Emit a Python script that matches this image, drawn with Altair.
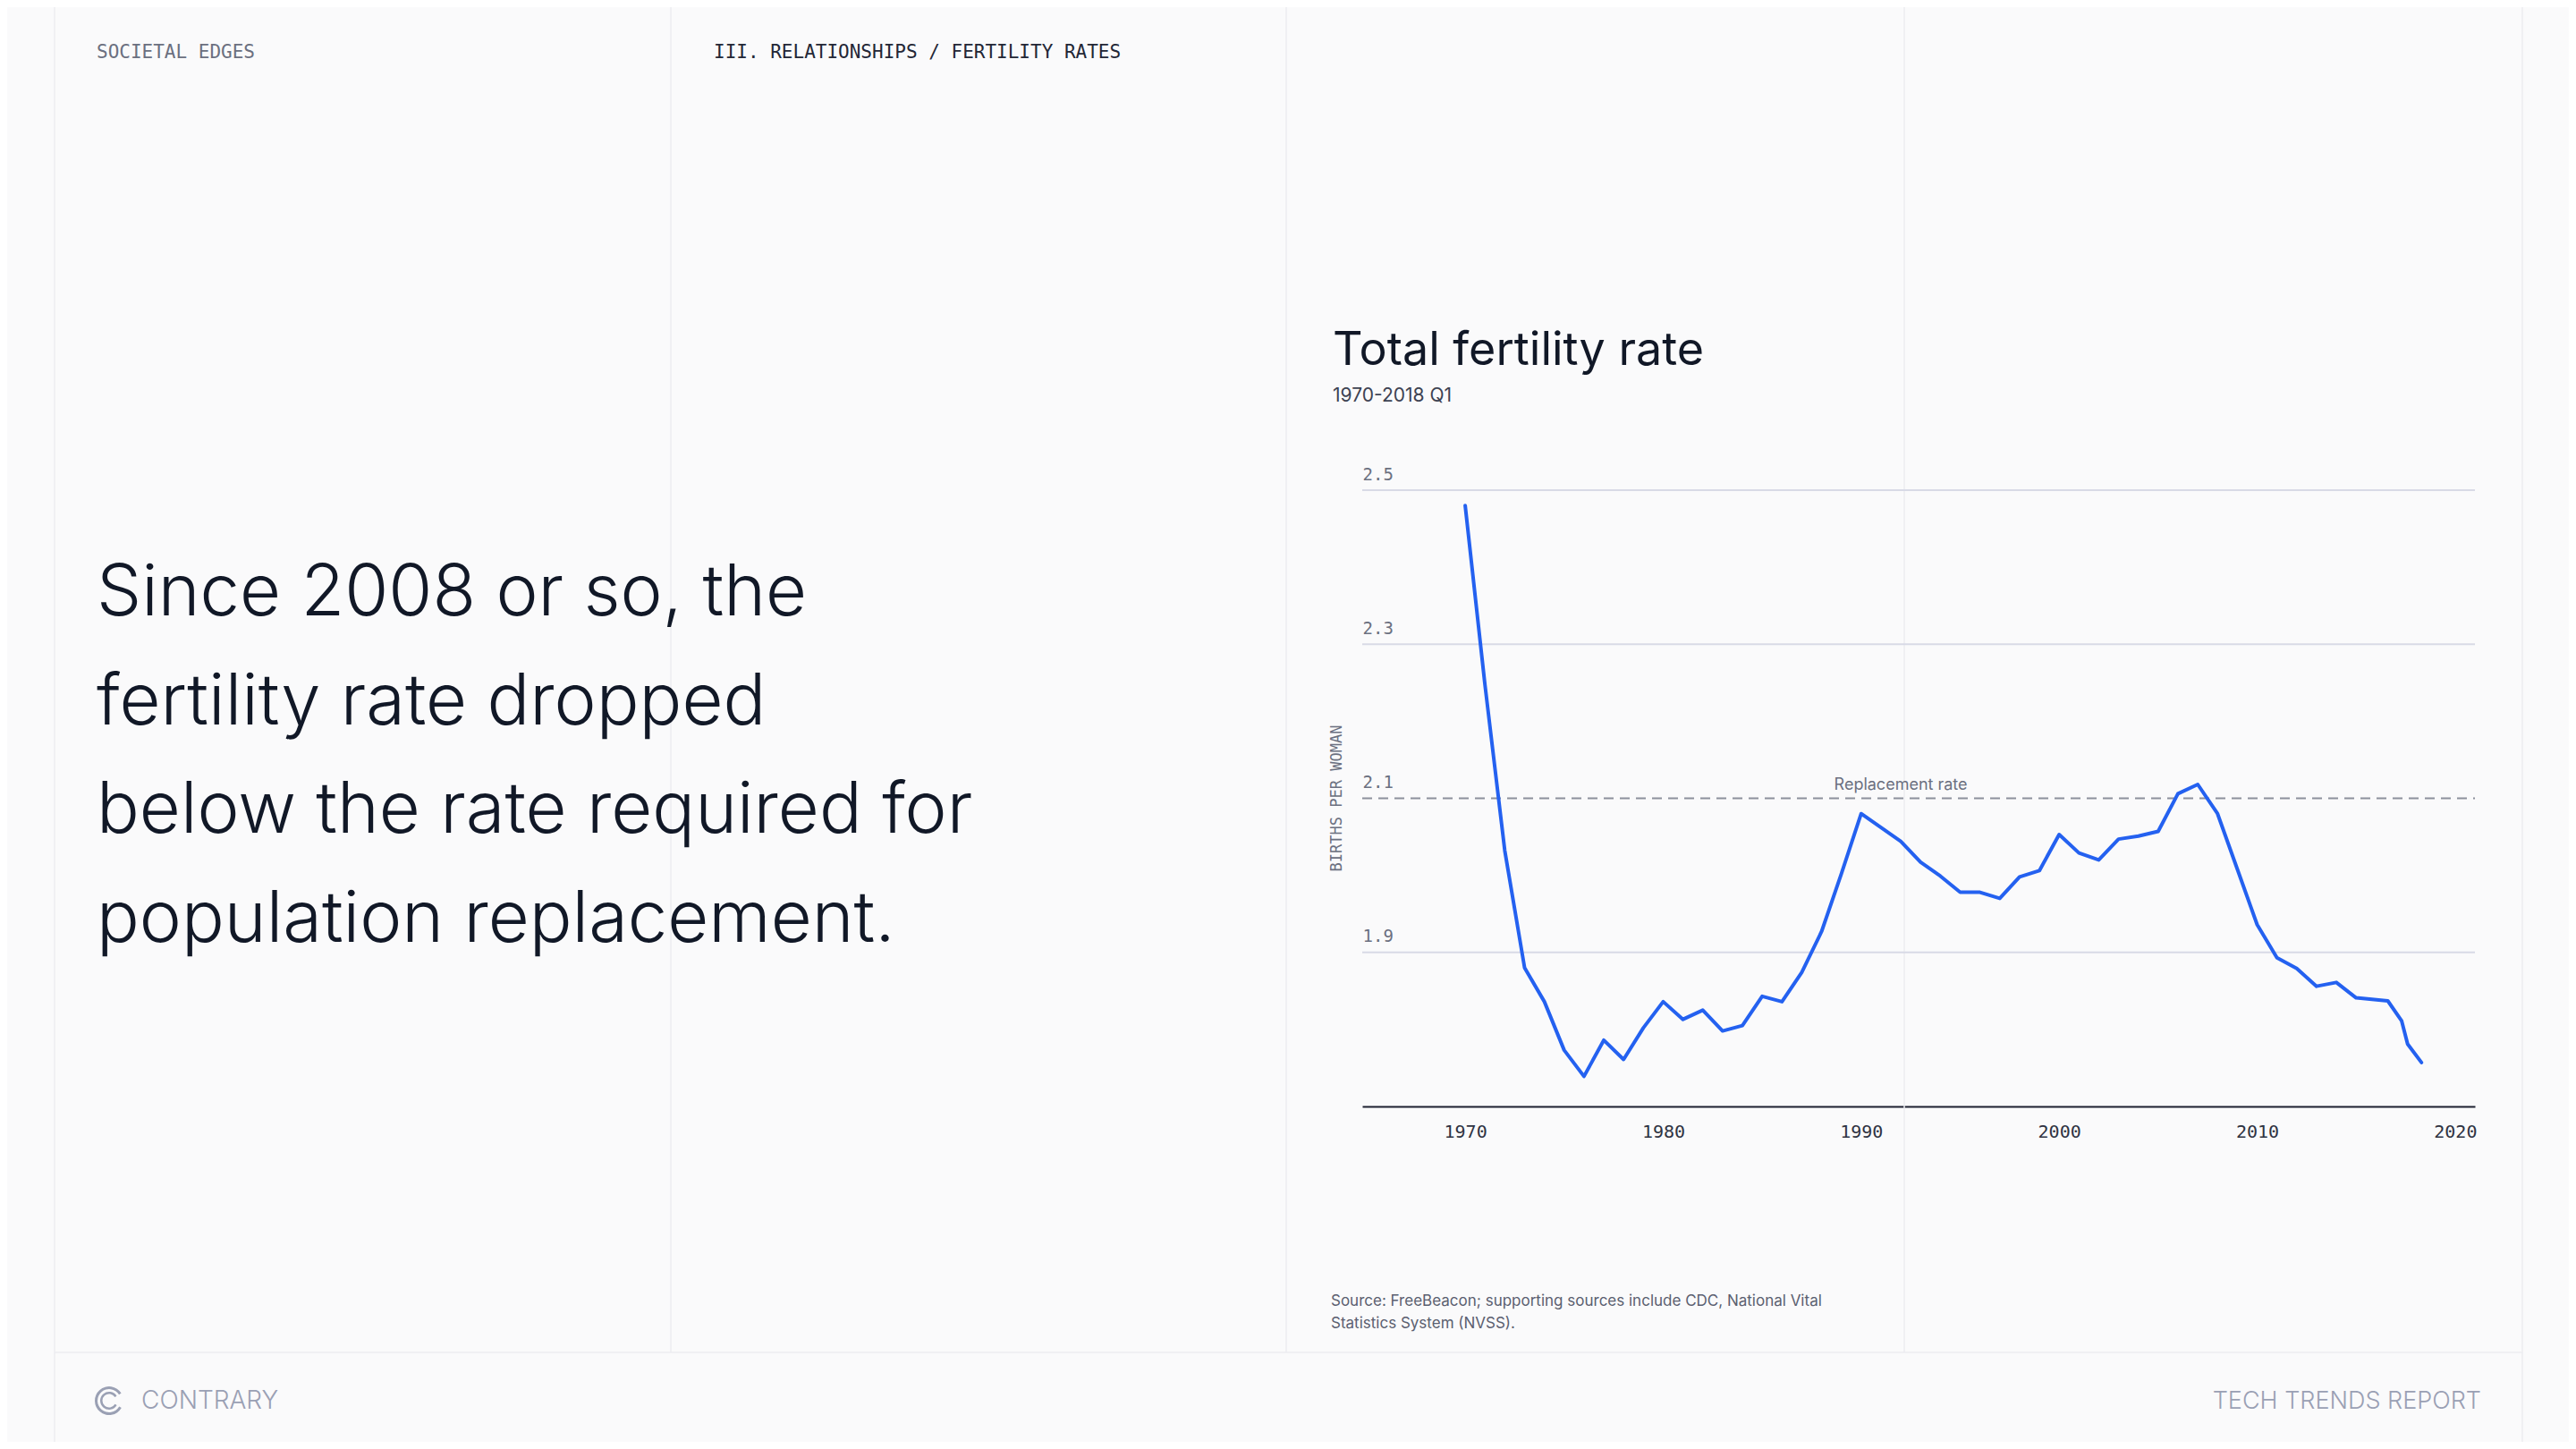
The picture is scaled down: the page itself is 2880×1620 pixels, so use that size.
import altair as alt
import pandas as pd

# ---------------- data ----------------
years = [1970, 1971, 1972, 1973, 1974, 1975, 1976, 1977, 1978, 1979,
         1980, 1981, 1982, 1983, 1984, 1985, 1986, 1987, 1988, 1989,
         1990, 1991, 1992, 1993, 1994, 1995, 1996, 1997, 1998, 1999,
         2000, 2001, 2002, 2003, 2004, 2005, 2006, 2007, 2008, 2009,
         2010, 2011, 2012, 2013, 2014, 2015, 2016.6, 2017.3, 2017.6, 2018.3]
tfr = [2.480, 2.247, 2.032, 1.880, 1.836, 1.773, 1.739, 1.786, 1.761, 1.802,
       1.836, 1.813, 1.825, 1.798, 1.805, 1.843, 1.836, 1.874, 1.927, 2.002,
       2.080, 2.062, 2.044, 2.017, 1.999, 1.978, 1.978, 1.970, 1.998, 2.006,
       2.053, 2.029, 2.020, 2.047, 2.051, 2.057, 2.106, 2.118, 2.080, 2.008,
       1.936, 1.893, 1.879, 1.856, 1.861, 1.841, 1.837, 1.811, 1.781, 1.757]

x_ticks = [1970, 1980, 1990, 2000, 2010, 2020]
y_ticks = [1.9, 2.1, 2.3, 2.5]
grid_values = [1.9, 2.3, 2.5]
replacement_rate = [2.1]
replacement_label = ["Replacement rate"]
replacement_label_year = [1992.0]

header_left = "SOCIETAL EDGES"
header_mid = "III. RELATIONSHIPS / FERTILITY RATES"
headline_lines = ["Since 2008 or so, the",
                  "fertility rate dropped",
                  "below the rate required for",
                  "population replacement."]
chart_title = "Total fertility rate"
chart_subtitle = "1970-2018 Q1"
y_title = "BIRTHS PER WOMAN"
source_lines = ["Source: FreeBeacon; supporting sources include CDC, National Vital",
                "Statistics System (NVSS)."]
footer_left = "CONTRARY"
footer_right = "TECH TRENDS REPORT"

# ---------------- layout / style ----------------
PAGE_W, PAGE_H = 2880, 1620
OX, OY = 1523, 548          # plot origin in page pixels
W, H = 1244, 689            # plot area
SANS = "Inter"
MONO = "DejaVu Sans Mono"
BLUE = "#2461f0"
BG = "#fafafb"
DIV = "#ececf0"


def px(x):
    return x - OX


def py(y):
    return y - OY


def txt(text, x, y, size, color, font=SANS, align="left", baseline="alphabetic",
        weight=400, angle=0):
    return alt.Chart(pd.DataFrame({"t": [text]})).mark_text(
        align=align, baseline=baseline, font=font, fontSize=size, color=color,
        fontWeight=weight, angle=angle
    ).encode(text="t:N", x=alt.value(px(x)), y=alt.value(py(y)))


def vrule(x, y1, y2, color=DIV, width=1.5):
    return alt.Chart(pd.DataFrame({"a": [0]})).mark_rule(color=color, strokeWidth=width).encode(
        x=alt.value(px(x)), y=alt.value(py(y1)), y2=alt.value(py(y2)))


def hrule(y, x1, x2, color=DIV, width=1.5):
    return alt.Chart(pd.DataFrame({"a": [0]})).mark_rule(color=color, strokeWidth=width).encode(
        y=alt.value(py(y)), x=alt.value(px(x1)), x2=alt.value(px(x2)))


xscale = alt.Scale(domain=[1964.8, 2021], nice=False, zero=False)
yscale = alt.Scale(domain=[1.7, 2.5], nice=False, zero=False)

X_AX = alt.Axis(values=x_ticks, format="d", title=None, grid=False,
                ticks=False, tickSize=0, domainColor="#1d2030", domainWidth=2,
                labelFont=MONO, labelFontSize=20, labelColor="#2f3342",
                labelPadding=18, labelBaseline="top")
Y_AX = alt.Axis(values=y_ticks, format=".1f", title=None, grid=False,
                ticks=False, tickSize=0, domain=False, labelAlign="left",
                labelPadding=0, labelBaseline="alphabetic", labelOffset=-12,
                labelFont=MONO, labelFontSize=19, labelColor="#6b7080")

df = pd.DataFrame({"year": years, "tfr": tfr})

line = alt.Chart(df).mark_line(
    color=BLUE, strokeWidth=4, strokeCap="round", strokeJoin="round"
).encode(
    x=alt.X("year:Q", scale=xscale, axis=X_AX),
    y=alt.Y("tfr:Q", scale=yscale, axis=Y_AX),
)

grid = alt.Chart(pd.DataFrame({"tfr": grid_values})).mark_rule(
    color="#d8dae6", strokeWidth=2
).encode(y=alt.Y("tfr:Q", scale=yscale, axis=Y_AX), x=alt.value(0), x2=alt.value(W))

dashed = alt.Chart(pd.DataFrame({"tfr": replacement_rate})).mark_rule(
    color="#8c909c", strokeWidth=2, strokeDash=[11, 7]
).encode(y=alt.Y("tfr:Q", scale=yscale, axis=Y_AX), x=alt.value(0), x2=alt.value(W))

rep_label = alt.Chart(pd.DataFrame({"year": replacement_label_year,
                                    "tfr": replacement_rate,
                                    "t": replacement_label})).mark_text(
    align="center", baseline="alphabetic", dy=-10, font=SANS, fontSize=18,
    color="#6b7080"
).encode(x=alt.X("year:Q", scale=xscale, axis=X_AX),
         y=alt.Y("tfr:Q", scale=yscale, axis=Y_AX), text="t:N")

layers = [
    # page dividers
    vrule(61, 0, PAGE_H), vrule(750, 0, 1512), vrule(1438, 0, 1512),
    vrule(2129, 0, 1512), vrule(2820, 0, PAGE_H),
    hrule(1512, 61, 2820),
    grid, dashed, line, rep_label,
    # headers
    txt(header_left, 108, 65, 21, "#6b7080", font=MONO),
    txt(header_mid, 798, 65, 21, "#232736", font=MONO),
    # chart titles
    txt(chart_title, 1490, 408, 52, "#111827", weight=400),
    txt(chart_subtitle, 1490, 449, 21, "#3d4252"),
    txt(y_title, 1495, 892.5, 17, "#6b7080", font=MONO, align="center",
        baseline="middle", angle=270),
    # footer
    txt(footer_left, 158, 1575, 28, "#9aa0b4", weight=300),
    txt(footer_right, 2774, 1575, 27, "#9aa0b4", align="right", weight=300),
]
for i, s in enumerate(headline_lines):
    layers.append(txt(s, 108, 688 + i * 121.5, 79.5, "#111827", weight=300))
for i, s in enumerate(source_lines):
    layers.append(txt(s, 1488, 1460 + i * 25, 17, "#5b6070"))

# logo: two open concentric arcs
for r1, r2 in [(13, 16), (7.5, 10)]:
    layers.append(
        alt.Chart(pd.DataFrame({"a": [0]})).mark_arc(
            radius=r2, radius2=r1, theta=2.1, theta2=7.3, color="#9aa0b4"
        ).encode(x=alt.value(px(122)), y=alt.value(py(1566)))
    )

chart = alt.layer(*layers).properties(
    width=W, height=H,
    autosize=alt.AutoSizeParams(type="none"),
    padding={"left": OX - 8, "top": OY - 8,
             "right": PAGE_W - 16 - (OX - 8) - W,
             "bottom": PAGE_H - 16 - (OY - 8) - H},
    background=BG,
).configure_view(stroke=None)

chart.save("out.html", embed_options={"renderer": "svg", "actions": False})
